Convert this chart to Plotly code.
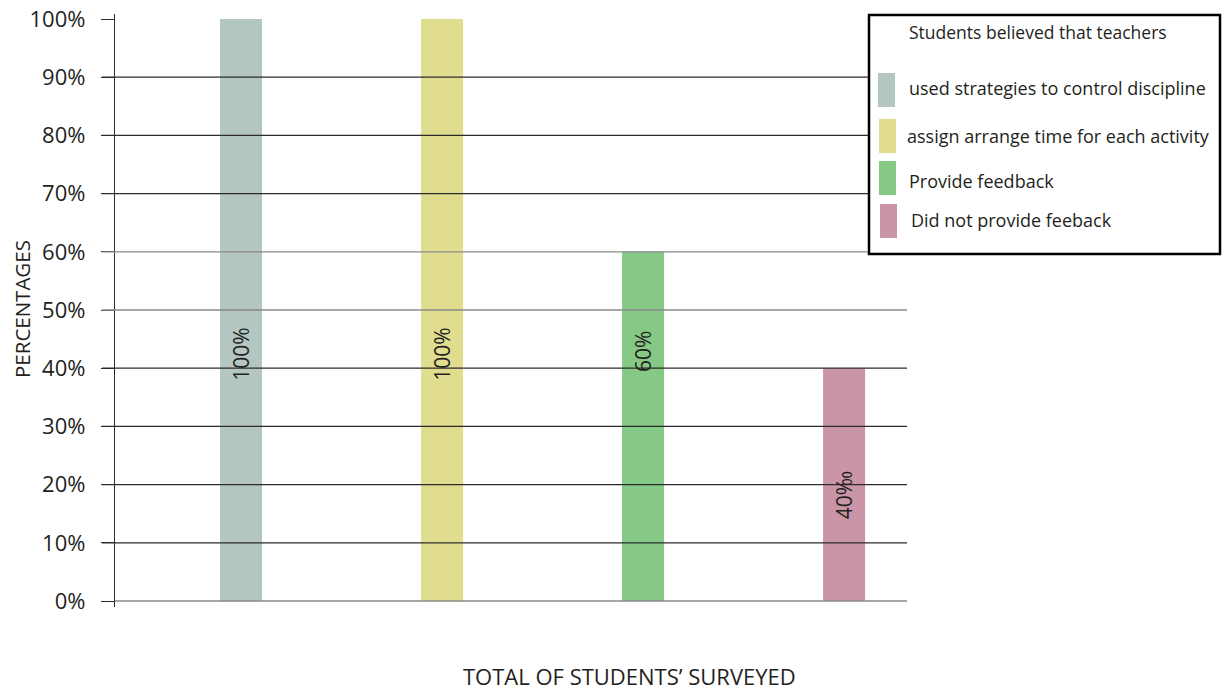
import plotly.graph_objects as go

# Survey results
categories = ["Control discipline", "Arrange time", "Provide feedback", "No feedback"]
values = [100, 100, 60, 40]
bar_labels = ["100%", "100%", "60%", "40‰"]
label_heights = [42.3, 42.3, 42.8, 18.2]
legend_title = "Students believed that teachers"
legend_labels = [
    "used strategies to control discipline",
    "assign arrange time for each activity",
    "Provide feedback",
    "Did not provide feeback",
]
colors = ["#b4c6c2", "#e0de8e", "#86c986", "#cb95a8"]
y_ticks = list(range(0, 101, 10))
y_tick_text = [f"{v}%" for v in y_ticks]

W, H = 1222, 691
L, R, T, B = 115, 907, 14, 607
FONT = "Open Sans"
INK = "#231f20"


def px_x(px):
    return (px - L) / (R - L)


def px_y(py):
    return (B - py) / (B - T)


fig = go.Figure()
fig.add_trace(go.Bar(
    x=categories, y=values, width=0.209,
    marker=dict(color=colors, line=dict(width=0)),
    showlegend=False, hoverinfo="skip",
))

# rotated value labels inside bars
for cat, lab, hy in zip(categories, bar_labels, label_heights):
    fig.add_annotation(x=cat, y=hy, text=lab, textangle=-90, showarrow=False,
                       font=dict(family=FONT, size=21, color=INK))

# horizontal rules drawn over the bars
shapes = []
for v in y_ticks[:-1]:
    col = "#8a8a8a" if v in (0, 50, 60) else "#2b2b2b"
    shapes.append(dict(type="line", xref="paper", yref="y", x0=px_x(102) if v else 0,
                       x1=1, y0=v, y1=v, layer="above",
                       line=dict(color=col, width=1.3)))

# legend box
lx0, lx1, ly0, ly1 = 869, 1220, 15, 254
shapes.append(dict(type="rect", xref="paper", yref="paper",
                   x0=px_x(lx0), x1=px_x(lx1), y0=px_y(ly1), y1=px_y(ly0),
                   fillcolor="white", line=dict(color="black", width=2.5), layer="above"))
swatches = [(878, 73, 107), (879, 119, 153), (879, 161, 195), (880, 204, 238)]
for (sx, sy0, sy1), c in zip(swatches, colors):
    shapes.append(dict(type="rect", xref="paper", yref="paper",
                       x0=px_x(sx), x1=px_x(sx + 17), y0=px_y(sy1), y1=px_y(sy0),
                       fillcolor=c, line=dict(width=0), layer="above"))
fig.update_layout(shapes=shapes)

fig.add_annotation(xref="paper", yref="paper", x=px_x(907), y=px_y(32), text=legend_title,
                   xanchor="left", yanchor="middle", showarrow=False,
                   font=dict(family=FONT, size=17.5, color=INK))
text_pos = [(907, 88), (905, 136), (907, 181), (909, 220)]
for (tx, ty), lab in zip(text_pos, legend_labels):
    fig.add_annotation(xref="paper", yref="paper", x=px_x(tx), y=px_y(ty), text=lab,
                       xanchor="left", yanchor="middle", showarrow=False,
                       font=dict(family=FONT, size=18, color=INK))

# axis titles
fig.add_annotation(xref="paper", yref="paper", x=px_x(629), y=px_y(676),
                   text="TOTAL OF STUDENTS’ SURVEYED", showarrow=False,
                   xanchor="center", yanchor="middle",
                   font=dict(family=FONT, size=22, color=INK))
fig.add_annotation(xref="paper", yref="paper", x=px_x(22), y=px_y(309),
                   text="PERCENTAGES", textangle=-90, showarrow=False,
                   xanchor="center", yanchor="middle",
                   font=dict(family=FONT, size=20.5, color=INK))

fig.update_layout(
    width=W, height=H,
    margin=dict(l=L, r=W - R, t=T, b=H - B, pad=0, autoexpand=False),
    plot_bgcolor="white", paper_bgcolor="white",
    xaxis=dict(range=[-0.627, 3.313], showgrid=False, showticklabels=False,
               ticks="", showline=False, zeroline=False, fixedrange=True,
               automargin=False),
    yaxis=dict(range=[-1.03, 100.86], tickvals=y_ticks, ticktext=y_tick_text,
               ticks="outside", ticklen=13, tickcolor="#2b2b2b", tickwidth=1.3,
               showline=True, linecolor="#2b2b2b", linewidth=1.3,
               showgrid=False, zeroline=False, ticklabelstandoff=11,
               automargin=False,
               tickfont=dict(family=FONT, size=22, color=INK), layer="above traces"),
)

fig.write_html("out.html")
